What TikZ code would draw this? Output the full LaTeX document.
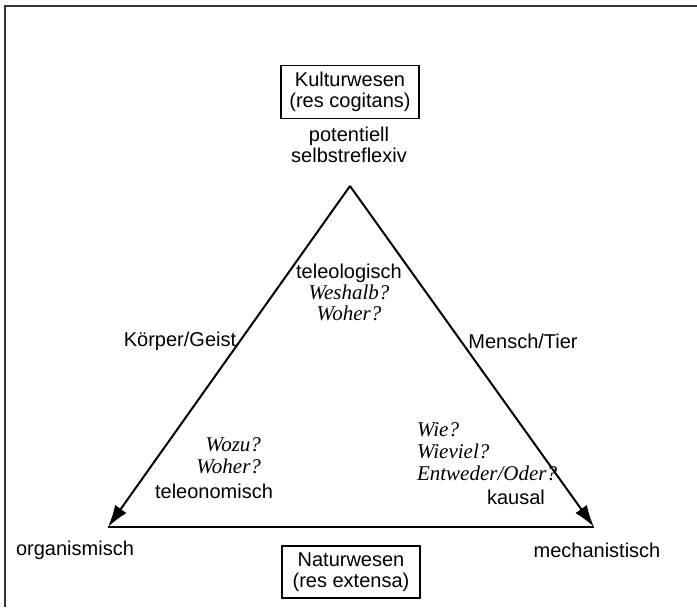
\documentclass[tikz,border=0pt]{standalone}
\usepackage{fontspec}
\setmainfont{Liberation Sans}
\newfontfamily\quest{Liberation Serif}
\usetikzlibrary{arrows.meta}

\begin{document}
\begin{tikzpicture}[x=0.5pt, y=-0.5pt,
  font=\fontsize{10}{10.5}\selectfont,
  wesen/.style={draw, line width=0.7pt, minimum width=69pt,
    minimum height=26pt, align=center},
  frage/.style={font=\quest\itshape\fontsize{10.5}{11}\selectfont}]
\useasboundingbox (0,0) rectangle (697,607);
\draw[line width=1pt, black!80] (697, 6) -- (4.5, 6) -- (4.5, 607);

\coordinate (top) at (350, 186);
\coordinate (left) at (108, 527);
\coordinate (right) at (594, 527);

\draw[line width=1pt, -{Latex[length=11pt, width=7pt]}] (top) -- (left);
\draw[line width=1pt, -{Latex[length=11pt, width=7pt]}] (top) -- (right);
\draw[line width=1pt] (left) -- (right);

\node[wesen] (kultur) at (350, 92) {Kulturwesen\\(res cogitans)};
\node[align=center] (potentiell) at (349, 145) {potentiell\\selbstreflexiv};
\node[align=center] (teleo) at (349, 292)
  {teleologisch\\{\quest\itshape\fontsize{10.5}{11}\selectfont Weshalb?}\\
   {\quest\itshape\fontsize{10.5}{11}\selectfont Woher?}};

\node (koerper) at (180, 341) {Körper/Geist};
\node (mensch) at (523, 341) {Mensch/Tier};

\node[frage, align=right, anchor=east] (wozu) at (268, 456) {Wozu?\\Woher?};
\node (teleonom) at (214, 491) {teleonomisch};
\node[frage, align=left, anchor=west] (wie) at (410, 452)
  {Wie?\\Wieviel?\\Entweder/Oder?};
\node[anchor=east] (kausal) at (552, 497) {kausal};

\node (organ) at (75, 550) {organismisch};
\node (mechan) at (597, 550) {mechanistisch};
\node[wesen] (natur) at (351, 572) {Naturwesen\\(res extensa)};
\end{tikzpicture}
\end{document}
